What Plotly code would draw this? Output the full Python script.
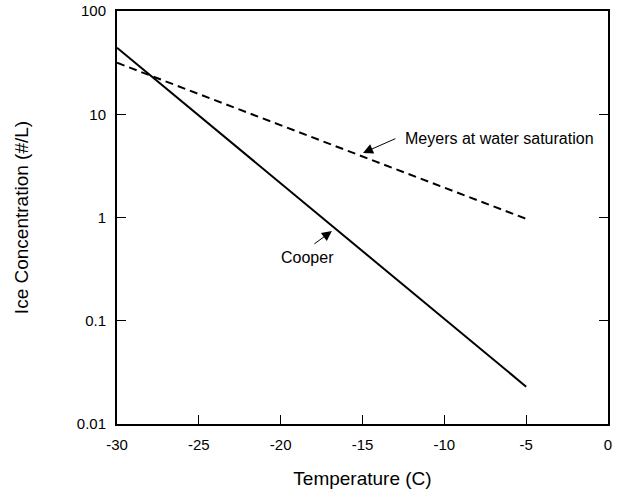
import plotly.graph_objects as go

# Data
cooper_T = [-30, -5]
cooper_N = [44.0, 0.023]
meyers_T = [-30, -5]
meyers_N = [31.5, 0.97]

x_ticks = [-30, -25, -20, -15, -10, -5, 0]
x_tick_labels = ["-30", "-25", "-20", "-15", "-10", "-5", "0"]
y_ticks = [0.01, 0.1, 1, 10, 100]
y_tick_labels = ["0.01", "0.1", "1", "10", "100"]

font_family = "Liberation Sans, Arial, Helvetica, sans-serif"

fig = go.Figure()
fig.add_trace(go.Scatter(x=cooper_T, y=cooper_N, mode="lines",
                         line=dict(color="black", width=2), showlegend=False))
fig.add_trace(go.Scatter(x=meyers_T, y=meyers_N, mode="lines",
                         line=dict(color="black", width=2, dash="8px,5px"), showlegend=False))

afont = dict(family=font_family, size=16, color="black")
# Meyers label + arrow (log axis: annotation y in log10 units)
fig.add_annotation(x=-12.55, y=0.77, xref="x", yref="y",
                   text="Meyers at water saturation", showarrow=False,
                   xanchor="left", yanchor="middle", font=afont)
fig.add_annotation(x=-14.97, y=0.625, xref="x", yref="y", text="",
                   showarrow=True, ax=-12.9, ay=0.77, axref="x", ayref="y",
                   arrowhead=2, arrowsize=2, arrowwidth=1, arrowcolor="black")
# Cooper label + arrow
fig.add_annotation(x=-18.36, y=-0.392, xref="x", yref="y",
                   text="Cooper", showarrow=False,
                   xanchor="center", yanchor="middle", font=afont)
fig.add_annotation(x=-16.87, y=-0.131, xref="x", yref="y", text="",
                   showarrow=True, ax=-18.03, ay=-0.266, axref="x", ayref="y",
                   arrowhead=2, arrowsize=2, arrowwidth=1, arrowcolor="black")

fig.update_layout(
    width=619, height=495,
    margin=dict(l=117, r=11, t=11, b=71),
    plot_bgcolor="white", paper_bgcolor="white",
    font=dict(family=font_family, size=15, color="black"),
    xaxis=dict(range=[-30, 0], tickvals=x_ticks, ticktext=x_tick_labels,
               ticks="inside", ticklen=9, automargin=False,
               tickcolor="black", showline=True, linecolor="black", linewidth=2,
               mirror=True, showgrid=False, zeroline=False,
               ticklabelstandoff=6,
               title=dict(text="Temperature (C)", standoff=20,
                          font=dict(size=19)),
               tickfont=dict(size=15)),
    yaxis=dict(type="log", range=[-2, 2], tickvals=y_ticks, ticktext=y_tick_labels,
               ticks="inside", ticklen=9, tickcolor="black", automargin=False,
               showline=True, linecolor="black", linewidth=2, mirror="ticks",
               showgrid=False, zeroline=False,
               ticklabelstandoff=6,
               title=dict(text="Ice Concentration (#/L)", standoff=43,
                          font=dict(size=19)),
               tickfont=dict(size=15)),
)

fig.write_html("out.html")
